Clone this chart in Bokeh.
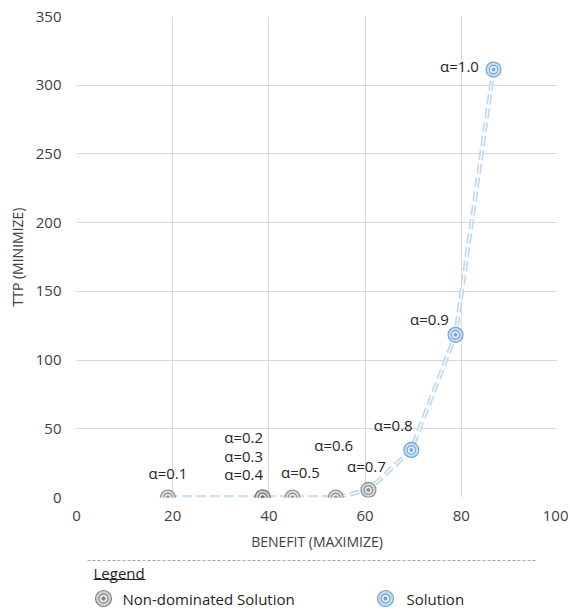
from bokeh.plotting import figure
from bokeh.models import ColumnDataSource, Range1d, FixedTicker, Label
from bokeh.layouts import column
from bokeh.embed import file_html
from bokeh.resources import INLINE
from bokeh.core.properties import value

# ---- data ----
benefit = [19.0, 38.7, 38.7, 38.7, 44.9, 53.9, 60.7, 69.6, 78.8, 86.7]
ttp = [0.0, 0.0, 0.0, 0.0, 0.0, 0.0, 5.5, 34.6, 118.4, 311.4]
alpha_labels = ["α=0.1", "α=0.2", "α=0.3", "α=0.4", "α=0.5",
                "α=0.6", "α=0.7", "α=0.8", "α=0.9", "α=1.0"]
kind = ["nd", "nd", "nd", "nd", "nd", "nd", "nd", "sol", "sol", "sol"]
x_ticks = [0, 20, 40, 60, 80, 100]
y_ticks = [0, 50, 100, 150, 200, 250, 300, 350]

# label offsets in screen pixels (layout)
label_dx = [0, -19, -19, -19, 8, -2, -2, -18, -26, -34]
label_dy = [25, 61, 42, 24, 26, 53, 24, 25, 16, 4]

FONT = "Open Sans"
GRID = "#d9d9d9"
TXT = "#404040"

FL, FR = 76, 11         # frame borders (left / right)
MAIN_W, MAIN_H = 568, 553

p = figure(width=MAIN_W, height=MAIN_H, output_backend="svg", toolbar_location=None,
           x_range=Range1d(0, 100), y_range=Range1d(0, 350),
           min_border_left=FL, min_border_top=16, min_border_right=FR,
           min_border_bottom=MAIN_H - 16 - 481)
p.outline_line_color = None
p.background_fill_color = "white"
p.border_fill_color = "white"
for ax in (p.xaxis[0], p.yaxis[0]):
    ax.axis_line_color = None
    ax.major_tick_line_color = None
    ax.minor_tick_line_color = None
    ax.major_tick_out = 0
    ax.major_label_text_font = FONT
    ax.major_label_text_font_size = "15px"
    ax.major_label_text_color = TXT
    ax.axis_label_text_font = FONT
    ax.axis_label_text_font_size = "14px"
    ax.axis_label_text_font_style = "normal"
    ax.axis_label_text_color = TXT
p.xaxis.ticker = FixedTicker(ticks=x_ticks)
p.yaxis.ticker = FixedTicker(ticks=y_ticks)
p.xaxis.major_label_standoff = 13
p.yaxis.major_label_standoff = 15
p.xaxis.axis_label = "BENEFIT (MAXIMIZE)"
p.yaxis.axis_label = "TTP (MINIMIZE)"
p.xaxis.axis_label_standoff = 8
p.yaxis.axis_label_standoff = 6
p.xgrid.grid_line_color = GRID
p.ygrid.grid_line_color = GRID
p.xgrid.ticker = FixedTicker(ticks=x_ticks)
p.ygrid.ticker = FixedTicker(ticks=y_ticks)

# connecting double dashed line
p.line(benefit, ttp, line_color="#bdd7ee", line_width=4.5, line_dash="10 4")
p.line(benefit, ttp, line_color="white", line_width=1.3, line_dash="10 4")

nd_x = [b for b, k in zip(benefit, kind) if k == "nd"]
nd_y = [t for t, k in zip(ttp, kind) if k == "nd"]
s_x = [b for b, k in zip(benefit, kind) if k == "sol"]
s_y = [t for t, k in zip(ttp, kind) if k == "sol"]


def marker(fig, xs, ys, line_c, fill_c, alpha, size=15):
    fig.scatter(xs, ys, size=size, fill_color=fill_c, fill_alpha=alpha,
                line_color=line_c, line_alpha=alpha, line_width=1.2)
    fig.scatter(xs, ys, size=size * 0.55, fill_color="white", fill_alpha=alpha,
                line_color=line_c, line_alpha=alpha, line_width=1.2)
    fig.scatter(xs, ys, size=size * 0.24, fill_color=line_c, fill_alpha=alpha,
                line_color=line_c, line_alpha=alpha, line_width=0.5)


marker(p, nd_x, nd_y, "#6f6f6f", "#c8c8c8", 0.75)
marker(p, s_x, s_y, "#5b9bd5", "#bdd7ee", 0.85)

src = ColumnDataSource(dict(x=benefit, y=ttp, t=alpha_labels, dx=label_dx,
                            dy=[-d for d in label_dy]))
p.text(x="x", y="y", text="t", x_offset="dx", y_offset="dy", source=src,
       text_font=value(FONT), text_font_size="15px", text_color="#262626",
       text_align="center", text_baseline="middle")

# ---- legend panel (frame aligned with main frame; x in page pixels) ----
H = 57
lg = figure(width=MAIN_W, height=H, output_backend="svg", toolbar_location=None,
            x_range=Range1d(FL, MAIN_W - FR), y_range=Range1d(H, 0),
            min_border_left=FL, min_border_right=FR,
            min_border_top=0, min_border_bottom=0)
lg.axis.visible = False
lg.grid.visible = False
lg.outline_line_color = None
lg.border_fill_color = "white"

lg.line([87, 535], [7, 7], line_color="#a6a6a6", line_width=1, line_dash="3 2")
lg.add_layout(Label(x=93, y=19, text="Legend", text_font=FONT, text_font_size="15px",
                    text_color="#262626", text_baseline="middle"))
lg.line([93, 145], [26, 26], line_color="#262626", line_width=1)
marker(lg, [103], [45], "#6f6f6f", "#c8c8c8", 0.85, size=16)
lg.add_layout(Label(x=122, y=45, text="Non-dominated Solution", text_font=FONT,
                    text_font_size="15px", text_color="#262626", text_baseline="middle"))
marker(lg, [385], [45], "#5b9bd5", "#bdd7ee", 0.9, size=16)
lg.add_layout(Label(x=406, y=45, text="Solution", text_font=FONT,
                    text_font_size="15px", text_color="#262626", text_baseline="middle"))

layout = column(p, lg, spacing=0)
open("out.html", "w").write(file_html(layout, INLINE))
